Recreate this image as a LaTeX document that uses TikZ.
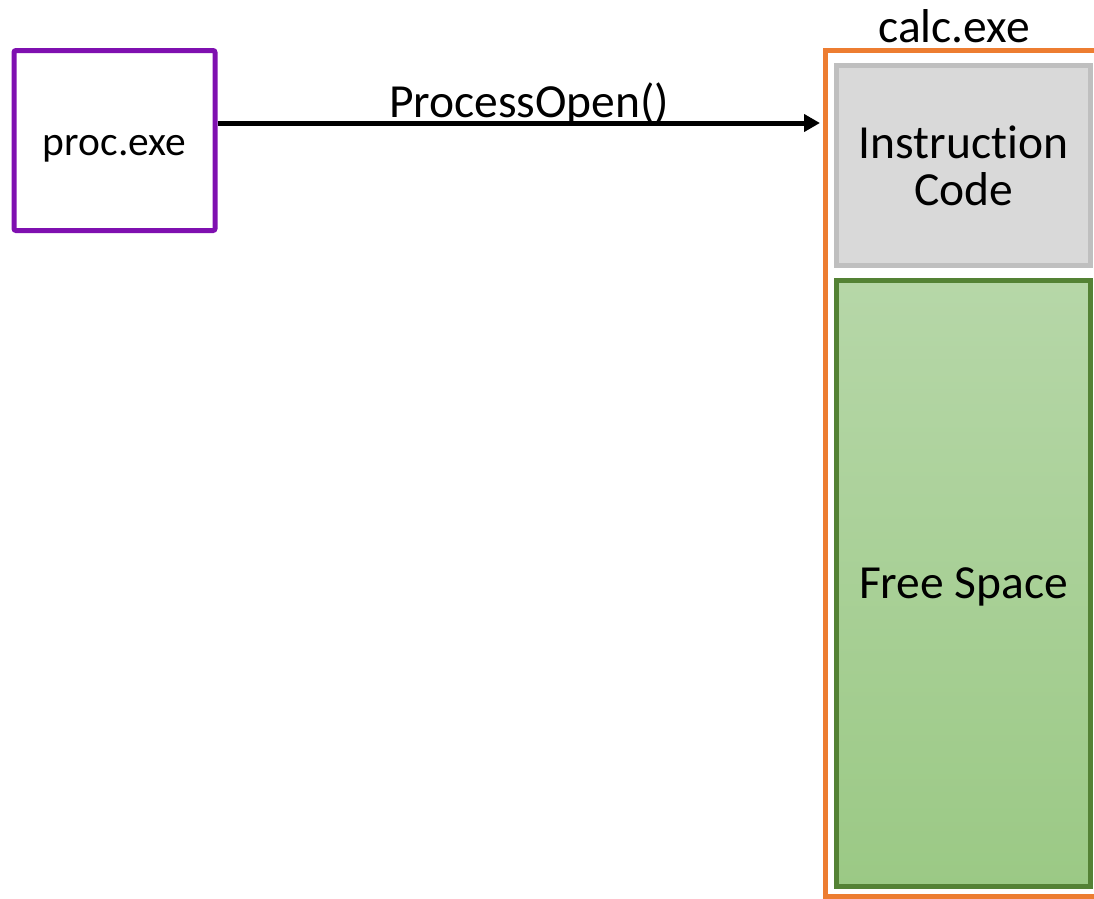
\documentclass[tikz,border=0pt]{standalone}
\usepackage{fontspec}
\setmainfont{Carlito}[Ligatures=NoCommon]
\usetikzlibrary{arrows.meta}

\definecolor{procpurple}{HTML}{7F10B0}
\definecolor{calcorange}{HTML}{ED7D31}
\definecolor{codefill}{HTML}{D9D9D9}
\definecolor{codeedge}{HTML}{BFBFBF}
\definecolor{freeedge}{HTML}{548235}
\definecolor{freetop}{HTML}{B6D7A8}
\definecolor{freebottom}{HTML}{9BC985}

\tikzset{
  bigtext/.style={font=\fontsize{47.5}{47}\selectfont},
  proctext/.style={font=\fontsize{41.5}{42}\selectfont},
  procbox/.style={draw=procpurple, line width=5pt, rounded corners=2pt,
    minimum width=201pt, minimum height=180pt, inner sep=0pt, proctext,
    text height=29pt, text depth=0pt},
  memregion/.style={line width=5pt, minimum width=254pt, inner sep=0pt, bigtext},
  callarrow/.style={line width=5pt, -{Triangle[length=16pt,width=17pt]}, shorten >=2.5pt}
}

\begin{document}
\begin{tikzpicture}[x=1pt, y=-1pt]
  \useasboundingbox (0,0) rectangle (1094,898);

  % calling process
  \node[procbox] (proc) at (114.5,140.5) {proc.exe};

  % address space of the target process (runs past the right edge)
  \begin{scope}
    \clip (0,0) rectangle (1094,898);
    \node[draw=calcorange, line width=5pt, minimum width=300pt,
      minimum height=845.5pt, inner sep=0pt] (calcbox) at (975,473.25) {};
  \end{scope}
  \node[bigtext, anchor=base] (calclabel) at (954,42) {calc.exe};

  % memory regions inside calc.exe
  \node[memregion, draw=codeedge, fill=codefill, minimum height=200pt,
    align=center] (code) at (963.5,165.5)
    {\raisebox{-3pt}{Instruction}\\\raisebox{-3pt}{Code}};
  \node[memregion, draw=freeedge, top color=freetop, bottom color=freebottom,
    minimum height=606pt, text height=30pt, text depth=0pt]
    (free) at (963.5,583.5) {Free Space};

  % the call
  \coordinate (cally) at (0,123);
  \draw[callarrow] (proc.east |- cally) -- (calcbox.west |- cally)
    node[pos=0.515, anchor=base, yshift=5.5pt, bigtext] (calllabel) {ProcessOpen()};
\end{tikzpicture}
\end{document}
